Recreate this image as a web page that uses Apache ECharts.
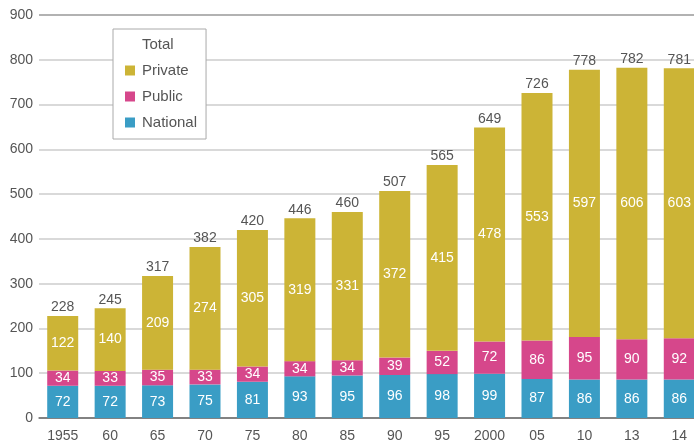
<!DOCTYPE html>
<html><head><meta charset="utf-8">
<script src="https://cdn.jsdelivr.net/npm/echarts@6/dist/echarts.min.js"></script>
<style>html,body{margin:0;padding:0;background:#fff}#c{width:694px;height:440px}</style>
</head><body><div id="c"></div>
<script>
const categories = ['1955','60','65','70','75','80','85','90','95','2000','05','10','13','14'];
const national = [72,72,73,75,81,93,95,96,98,99,87,86,86,86];
const publicV = [34,33,35,33,34,34,34,39,52,72,86,95,90,92];
const privateV = [122,140,209,274,305,319,331,372,415,478,553,597,606,603];
const total = [228,245,317,382,420,446,460,507,565,649,726,778,782,781];
const yTicks = [0,100,200,300,400,500,600,700,800,900];

const chart = echarts.init(document.getElementById('c'), null, {renderer:'canvas'});
const inLabel = {show:true, position:'inside', color:'#fff', fontSize:14, fontFamily:'Liberation Sans, Arial, sans-serif'};
chart.setOption({
  animation:false,
  textStyle:{fontFamily:'Liberation Sans, Arial, sans-serif'},
  grid:{left:39, right:-9, top:15, bottom:22, containLabel:false, outerBoundsMode:'none'},
  legend:{
    orient:'vertical', left:113, top:29, width:93,
    padding:[8,9,9,12], itemGap:11, itemWidth:10, itemHeight:10,
    borderColor:'#aaa', borderWidth:1, backgroundColor:'#fff',
    textStyle:{color:'#555', fontSize:15, padding:[0,0,0,2]},
    selectedMode:false,
    data:[{name:'Total', icon:'none'},{name:'Private', icon:'rect'},{name:'Public', icon:'rect'},{name:'National', icon:'rect'}]
  },
  xAxis:{
    type:'category', data:categories,
    axisLine:{lineStyle:{color:'#777', width:1.5}},
    axisTick:{show:false},
    axisLabel:{color:'#555', fontSize:14, margin:11}
  },
  yAxis:{
    type:'value', min:yTicks[0], max:yTicks[yTicks.length-1], interval:100,
    axisLine:{show:false}, axisTick:{show:false},
    axisLabel:{color:'#555', fontSize:14, margin:6},
    splitLine:{lineStyle:{color:['#888','#ccc','#ccc','#ccc','#ccc','#ccc','#ccc','#ccc','#ccc','#999'], width:1.5}}
  },
  series:[
    {name:'National', type:'bar', stack:'s', barWidth:31, data:national, itemStyle:{color:'#3a9dc5'}, label:inLabel},
    {name:'Public', type:'bar', stack:'s', data:publicV, itemStyle:{color:'#d6478b'}, label:inLabel},
    {name:'Private', type:'bar', stack:'s', data:privateV, itemStyle:{color:'#ccb436'}, label:inLabel},
    {name:'Total', type:'line', data:total, symbol:'circle', symbolSize:1,
     itemStyle:{color:'rgba(0,0,0,0)'}, lineStyle:{width:0, opacity:0},
     label:{show:true, position:'top', distance:1, color:'#555', fontSize:14}, z:5}
  ]
});
</script></body></html>
